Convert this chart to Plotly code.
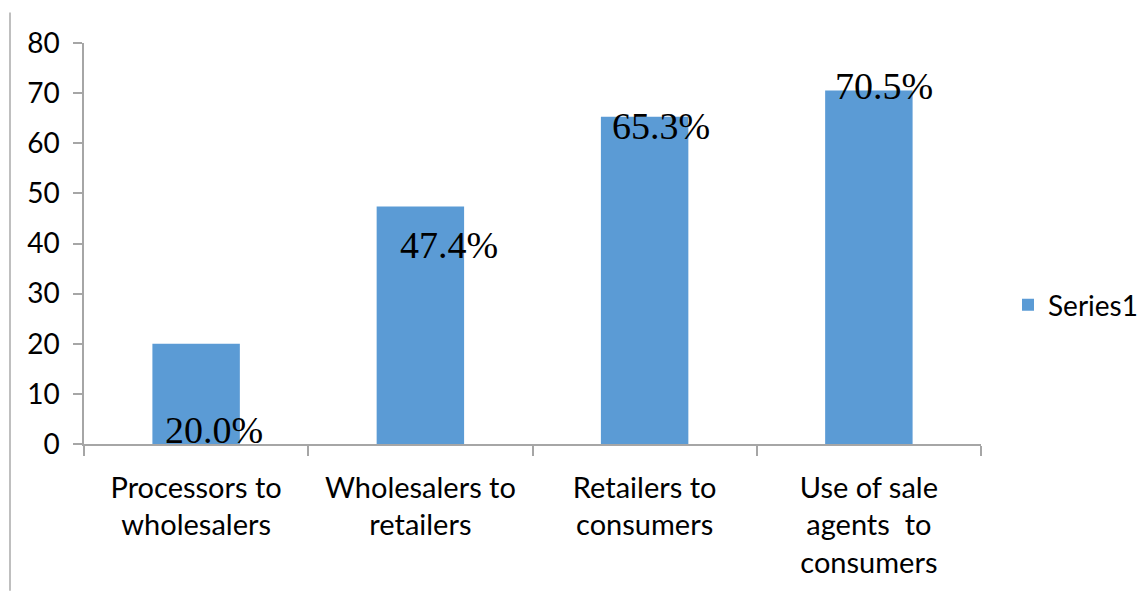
import plotly.graph_objects as go

categories = ["Processors to<br>wholesalers", "Wholesalers to<br>retailers",
              "Retailers to<br>consumers", "Use of sale<br>agents  to<br>consumers"]
values = [20.0, 47.4, 65.3, 70.5]
labels = ["20.0%", "47.4%", "65.3%", "70.5%"]
# label offsets (pixels) relative to bar top, style only
label_dx = [18, 29, 16, 15]
label_dy = [-109, -62, -32, -18]

W, H = 1147, 591
L, R, T, B = 84, 166, 42.5, 147
pw = W - L - R
ph = H - T - B

fig = go.Figure()
fig.add_trace(go.Bar(
    x=categories, y=values, name="Series1",
    marker=dict(color="#5B9BD5", line=dict(width=0)),
    width=0.39, showlegend=True,
))

for c, v, t, dx, dy in zip(categories, values, labels, label_dx, label_dy):
    fig.add_annotation(x=c, y=v, text=t, showarrow=False,
                       xshift=dx, yshift=dy, yanchor="bottom",
                       font=dict(family="Liberation Serif", size=38, color="black"))

grey = "#A6A6A6"
fig.update_layout(
    width=W, height=H,
    margin=dict(l=L, r=R, t=T, b=B, pad=0, autoexpand=False),
    paper_bgcolor="white", plot_bgcolor="white",
    font=dict(family="Lato", size=28, color="black"),
    bargap=0.61,
    xaxis=dict(showline=True, linecolor=grey, linewidth=1.5,
               ticks="outside", tickson="boundaries", ticklen=10,
               tickcolor=grey, tickwidth=1.5, ticklabelstandoff=17,
               tickfont=dict(family="Lato", size=29),
               showgrid=False, zeroline=False),
    yaxis=dict(range=[0, 80], dtick=10, showline=True, linecolor=grey,
               linewidth=1.5, ticks="outside", ticklen=9, tickcolor=grey,
               tickwidth=1.5, tickfont=dict(family="Lato", size=28),
               ticklabelstandoff=8,
               showgrid=False, zeroline=False),
    legend=dict(x=(1008 - L) / pw, y=(H - B - 305) / ph, xanchor="left",
                yanchor="middle", font=dict(family="Lato", size=28),
                itemwidth=30, bgcolor="rgba(0,0,0,0)"),
    shapes=[dict(type="line", xref="paper", yref="paper",
                 x0=(10 - L) / pw, x1=(10 - L) / pw,
                 y0=(H - B - 12) / ph, y1=(H - B - 591) / ph,
                 line=dict(color="#BFBFBF", width=2))],
)
fig.write_html("out.html")
